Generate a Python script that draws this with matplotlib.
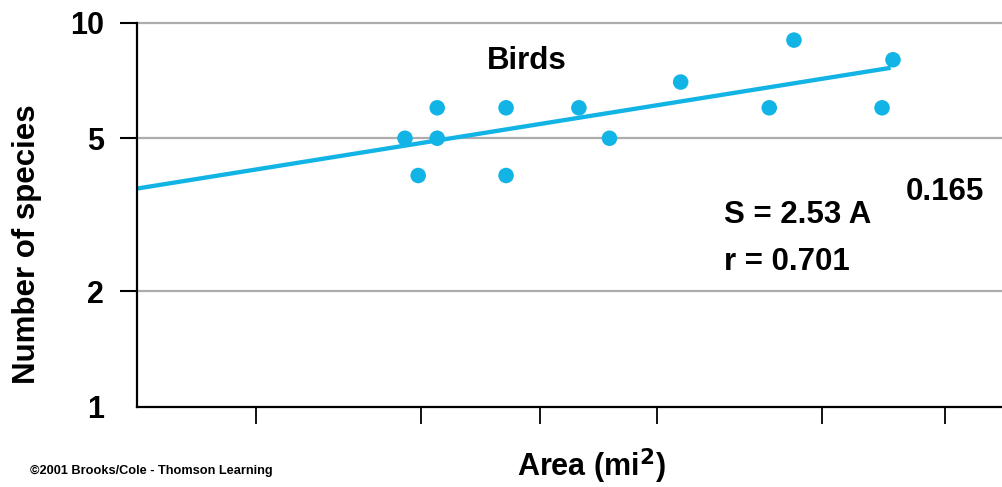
import numpy as np
import matplotlib
matplotlib.use("Agg")
import matplotlib.pyplot as plt
from matplotlib.ticker import NullFormatter, FixedLocator

plt.rcParams['font.family'] = ['Liberation Sans', 'DejaVu Sans']

# Data (area in mi^2, number of bird species)
area = [47.5, 51.3, 57.3, 57.3, 85.5, 85.5, 130.6, 156, 236, 395, 456, 761, 811]
species = [5, 4, 6, 5, 6, 4, 6, 5, 7, 6, 9, 6, 8]
# Fitted power law S = c * A^z
fit_c = 2.53
fit_z = 0.165
fit_range = [10, 800]
x_ticks = [20, 52, 104, 206, 537, 1096]
y_ticks = [1, 2, 5, 10]
y_tick_labels = ['1', '2', '5', '10']

color = '#11b4e4'

fig = plt.figure(figsize=(10.02, 4.87), dpi=100)
W, H = 1002, 487
ax = fig.add_axes([137 / W, (H - 407) / H, 873 / W, (407 - 22.5) / H])
ax.set_xscale('log')
ax.set_yscale('log')
ax.set_xlim(10, 10 ** (1 + 873 / 396))
ax.set_ylim(1, 10)

# grid lines
for v in [2, 5, 10]:
    ax.axhline(v, color='#adadad', lw=1.6, zorder=0, clip_on=False)

# regression line
fx = np.logspace(np.log10(fit_range[0]), np.log10(fit_range[1]), 50)
ax.plot(fx, fit_c * fx ** fit_z, color=color, lw=3.1, zorder=2, solid_capstyle='butt')

# points
ax.scatter(area, species, s=125, color=color, zorder=3, edgecolors='none')

ax.spines['top'].set_visible(False)
ax.spines['right'].set_visible(False)
for s in ['left', 'bottom']:
    ax.spines[s].set_linewidth(1.6)
    ax.spines[s].set_color('black')

ax.yaxis.set_major_locator(FixedLocator(y_ticks))
ax.yaxis.set_minor_locator(FixedLocator([]))
ax.set_yticklabels(y_tick_labels, fontsize=22, fontweight='bold')
ax.tick_params(axis='y', which='major', direction='out', length=12, width=1.5, pad=12)
ax.yaxis.get_major_ticks()[0].tick1line.set_visible(False)

ax.xaxis.set_major_locator(FixedLocator(x_ticks))
ax.xaxis.set_minor_locator(FixedLocator([]))
ax.xaxis.set_major_formatter(NullFormatter())
ax.tick_params(axis='x', which='major', direction='out', length=12, width=1.3)

def ftxt(x, y, s, **kw):
    fig.text(x / W, 1 - y / H, s, **kw)

ftxt(27, 244, 'Number of species', rotation=90, ha='center', va='center',
     fontsize=22.5, fontweight='bold')
ftxt(591, 466, 'Area (mi$^{\\mathbf{2}}$)', ha='center', va='center',
     fontsize=22, fontweight='bold')
ftxt(30, 471, '©2001 Brooks/Cole - Thomson Learning', ha='left', va='center',
     fontsize=9.2, fontweight='bold')
ftxt(527, 61, 'Birds', ha='center', va='center', fontsize=22.5, fontweight='bold')
ftxt(724, 215, 'S = 2.53 A', ha='left', va='center', fontsize=22.5, fontweight='bold')
ftxt(906, 192, '0.165', ha='left', va='center', fontsize=22.5, fontweight='bold')
ftxt(724, 262, 'r = 0.701', ha='left', va='center', fontsize=22.5, fontweight='bold')

fig.savefig('out.png', dpi=100)
